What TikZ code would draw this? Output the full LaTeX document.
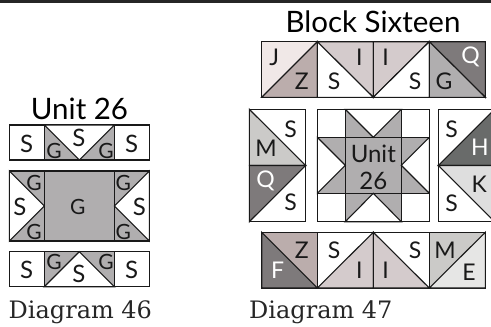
\documentclass[tikz,border=0pt]{standalone}
\usepackage{fontspec}
\setmainfont{Lato}
\newfontfamily\capfont{DejaVu Serif}
\definecolor{greyG}{HTML}{B0AEAF}
\definecolor{roseJ}{HTML}{F0E8E7}
\definecolor{roseZ}{HTML}{BBADAC}
\definecolor{roseI}{HTML}{D4CBCC}
\definecolor{darkQ}{HTML}{7E7A7B}
\definecolor{greyM}{HTML}{CBCAC8}
\definecolor{darkH}{HTML}{696B6A}
\definecolor{lightK}{HTML}{DEDEDE}
\definecolor{lightE}{HTML}{E6E6E5}
\begin{document}
\begin{tikzpicture}[x=1pt, y=-1pt,
  patch/.style={draw=black!90, line width=1.1pt, line join=miter},
  lab/.style={font=\fontsize{23}{23}\selectfont, inner sep=0pt, text=black!90},
  labS/.style={lab, font=\fontsize{24}{24}\selectfont},
  labG/.style={lab, font=\fontsize{21}{21}\selectfont},
  wlab/.style={lab, text=white},
  head/.style={font=\fontsize{29.5}{30}\selectfont, inner sep=0pt, anchor=base, text=black},
  capt/.style={font=\capfont\fontsize{24}{24}\selectfont, inner sep=0pt, anchor=base west, text=black!85}]
  \useasboundingbox (0,0) rectangle (491,327);
  \clip (0,0) rectangle (491,327);
  \fill[black!85] (0,0) rectangle (491,2.5);
  % Unit 26
  \node[head] (unitTitle) at (79.5,119) {Unit 26};
  \draw[patch, fill=white] (9.3,125) rectangle (44.3,160);
  \draw[patch, fill=white] (114.3,125) rectangle (149.3,160);
  \draw[patch, fill=greyG] (44.3,125) rectangle (114.3,160);
  \draw[patch, fill=white] (44.3,125) -- (79.3,160) -- (114.3,125) -- cycle;
  \node[labS] (s1) at (26.7,144) {S};
  \node[labG] (g1) at (54,150.7) {G};
  \node[labS] (s2) at (79,138.3) {S};
  \node[labG] (g2) at (106,150.7) {G};
  \node[labS] (s3) at (131.7,144) {S};
  \draw[patch, fill=greyG] (9.3,171) rectangle (149.3,241);
  \draw[patch, fill=white] (9.3,171) -- (44.3,206) -- (9.3,241) -- cycle;
  \draw[patch, fill=white] (149.3,171) -- (114.3,206) -- (149.3,241) -- cycle;
  \draw[patch] (44.3,171) -- (44.3,241) (114.3,171) -- (114.3,241);
  \node[labG] (g3) at (34,183.3) {G};
  \node[labS] (s4) at (20,206.7) {S};
  \node[labG] (g4) at (34,231.7) {G};
  \node[labG] (g5) at (77.7,206.7) {G};
  \node[labG] (g6) at (123.3,183.3) {G};
  \node[labS] (s5) at (139.3,206.7) {S};
  \node[labG] (g7) at (123.3,231.7) {G};
  \draw[patch, fill=white] (9.3,251.7) rectangle (44.3,286.7);
  \draw[patch, fill=white] (114.3,251.7) rectangle (149.3,286.7);
  \draw[patch, fill=greyG] (44.3,251.7) rectangle (114.3,286.7);
  \draw[patch, fill=white] (44.3,286.7) -- (79.3,251.7) -- (114.3,286.7) -- cycle;
  \node[labS] (s6) at (26.7,270) {S};
  \node[labG] (g8) at (54,261.7) {G};
  \node[labS] (s7) at (79,274.3) {S};
  \node[labG] (g9) at (106,261.7) {G};
  \node[labS] (s8) at (131.7,270) {S};
  \node[capt] (diagA) at (8.5,318.3) {Diagram 46};
  % Block Sixteen
  \node[head] (blockTitle) at (373,32.7) {Block Sixteen};
  % top row
  \fill[roseJ] (261.7,41.7) rectangle (317.3,97.3);
  \draw[patch, fill=roseZ] (261.7,97.3) -- (317.3,41.7) -- (317.3,97.3) -- cycle;
  \draw[patch, fill=roseI] (317.3,41.7) -- (373.3,41.7) -- (373.3,97.3) -- cycle;
  \draw[patch, fill=white] (317.3,41.7) -- (373.3,97.3) -- (317.3,97.3) -- cycle;
  \draw[patch, fill=roseI] (373.3,41.7) -- (429.3,41.7) -- (373.3,97.3) -- cycle;
  \draw[patch, fill=white] (429.3,41.7) -- (429.3,97.3) -- (373.3,97.3) -- cycle;
  \draw[patch, fill=darkQ] (429.3,41.7) -- (485.3,41.7) -- (485.3,97.3) -- cycle;
  \draw[patch, fill=greyG] (429.3,41.7) -- (485.3,97.3) -- (429.3,97.3) -- cycle;
  \draw[patch] (261.7,41.7) rectangle (485.3,97.3);
  \node[lab] (j1) at (274.3,57.3) {J};
  \node[lab] (z1) at (301.7,81) {Z};
  \node[lab] (s9) at (334,81) {S};
  \node[lab] (i1) at (359.3,57.3) {I};
  \node[lab] (i2) at (385.7,57.3) {I};
  \node[lab] (s10) at (415,81) {S};
  \node[lab] (g10) at (444,81) {G};
  \node[wlab] (q1) at (470.7,56.7) {Q};
  % left column
  \fill[white] (249.3,109.3) rectangle (305.7,221.7);
  \draw[patch, fill=greyM] (249.3,109.3) -- (305.7,165.5) -- (249.3,165.5) -- cycle;
  \draw[patch, fill=darkQ] (249.3,165.5) -- (305.7,165.5) -- (249.3,221.7) -- cycle;
  \draw[patch] (249.3,109.3) rectangle (305.7,221.7);
  \node[lab] (s11) at (290.7,129.3) {S};
  \node[lab] (m1) at (266,148.3) {M};
  \node[wlab] (q2) at (265.7,180.7) {Q};
  \node[lab] (s12) at (290.7,202.7) {S};
  % Unit 26 in the block
  \draw[patch, fill=greyG] (345.3,109.3) rectangle (401.3,221.7);
  \draw[patch, fill=greyG] (317.3,137.3) rectangle (429.3,193.3);
  \draw[patch, fill=white] (345.3,109.3) -- (373.3,137.3) -- (401.3,109.3) -- cycle;
  \draw[patch, fill=white] (345.3,221.7) -- (373.3,193.3) -- (401.3,221.7) -- cycle;
  \draw[patch, fill=white] (317.3,137.3) -- (345.3,165.3) -- (317.3,193.3) -- cycle;
  \draw[patch, fill=white] (429.3,137.3) -- (401.3,165.3) -- (429.3,193.3) -- cycle;
  \draw[patch] (317.3,109.3) rectangle (429.3,221.7);
  \draw[patch] (345.3,137.3) rectangle (401.3,193.3);
  \node[labS] (unitA) at (373.3,154) {Unit};
  \node[labS] (unitB) at (373.3,180.7) {26};
  % right column
  \fill[white] (438.3,109.3) rectangle (494.6,221.7);
  \draw[patch, fill=darkH] (494.6,109.3) -- (494.6,165.5) -- (438.3,165.5) -- cycle;
  \draw[patch, fill=lightK] (438.3,165.5) -- (494.6,165.5) -- (494.6,221.7) -- cycle;
  \draw[patch] (438.3,109.3) rectangle (494.6,221.7);
  \node[lab] (s13) at (451.7,129.3) {S};
  \node[wlab] (h1) at (480,147.3) {H};
  \node[lab] (k1) at (479.3,184) {K};
  \node[lab] (s14) at (451.7,203.3) {S};
  % bottom row
  \draw[patch, fill=roseZ] (261.7,232.3) rectangle (317.3,288);
  \draw[patch, fill=darkQ] (261.7,232.3) -- (317.3,288) -- (261.7,288) -- cycle;
  \draw[patch, fill=white] (317.3,232.3) rectangle (373.3,288);
  \draw[patch, fill=roseI] (317.3,288) -- (373.3,232.3) -- (373.3,288) -- cycle;
  \draw[patch, fill=white] (373.3,232.3) rectangle (429.3,288);
  \draw[patch, fill=roseI] (373.3,232.3) -- (429.3,288) -- (373.3,288) -- cycle;
  \draw[patch, fill=greyM] (429.3,232.3) rectangle (485.3,288);
  \draw[patch, fill=lightE] (429.3,288) -- (485.3,232.3) -- (485.3,288) -- cycle;
  \node[wlab] (f1) at (277.7,270) {F};
  \node[lab] (z2) at (301.7,250.7) {Z};
  \node[lab] (s15) at (334,250.7) {S};
  \node[lab] (i3) at (359.3,270) {I};
  \node[lab] (i4) at (385.7,270) {I};
  \node[lab] (s16) at (415,250.7) {S};
  \node[lab] (m2) at (445,250.7) {M};
  \node[lab] (e1) at (469,272.3) {E};
  \node[capt] (diagB) at (249,318.3) {Diagram 47};
\end{tikzpicture}
\end{document}
